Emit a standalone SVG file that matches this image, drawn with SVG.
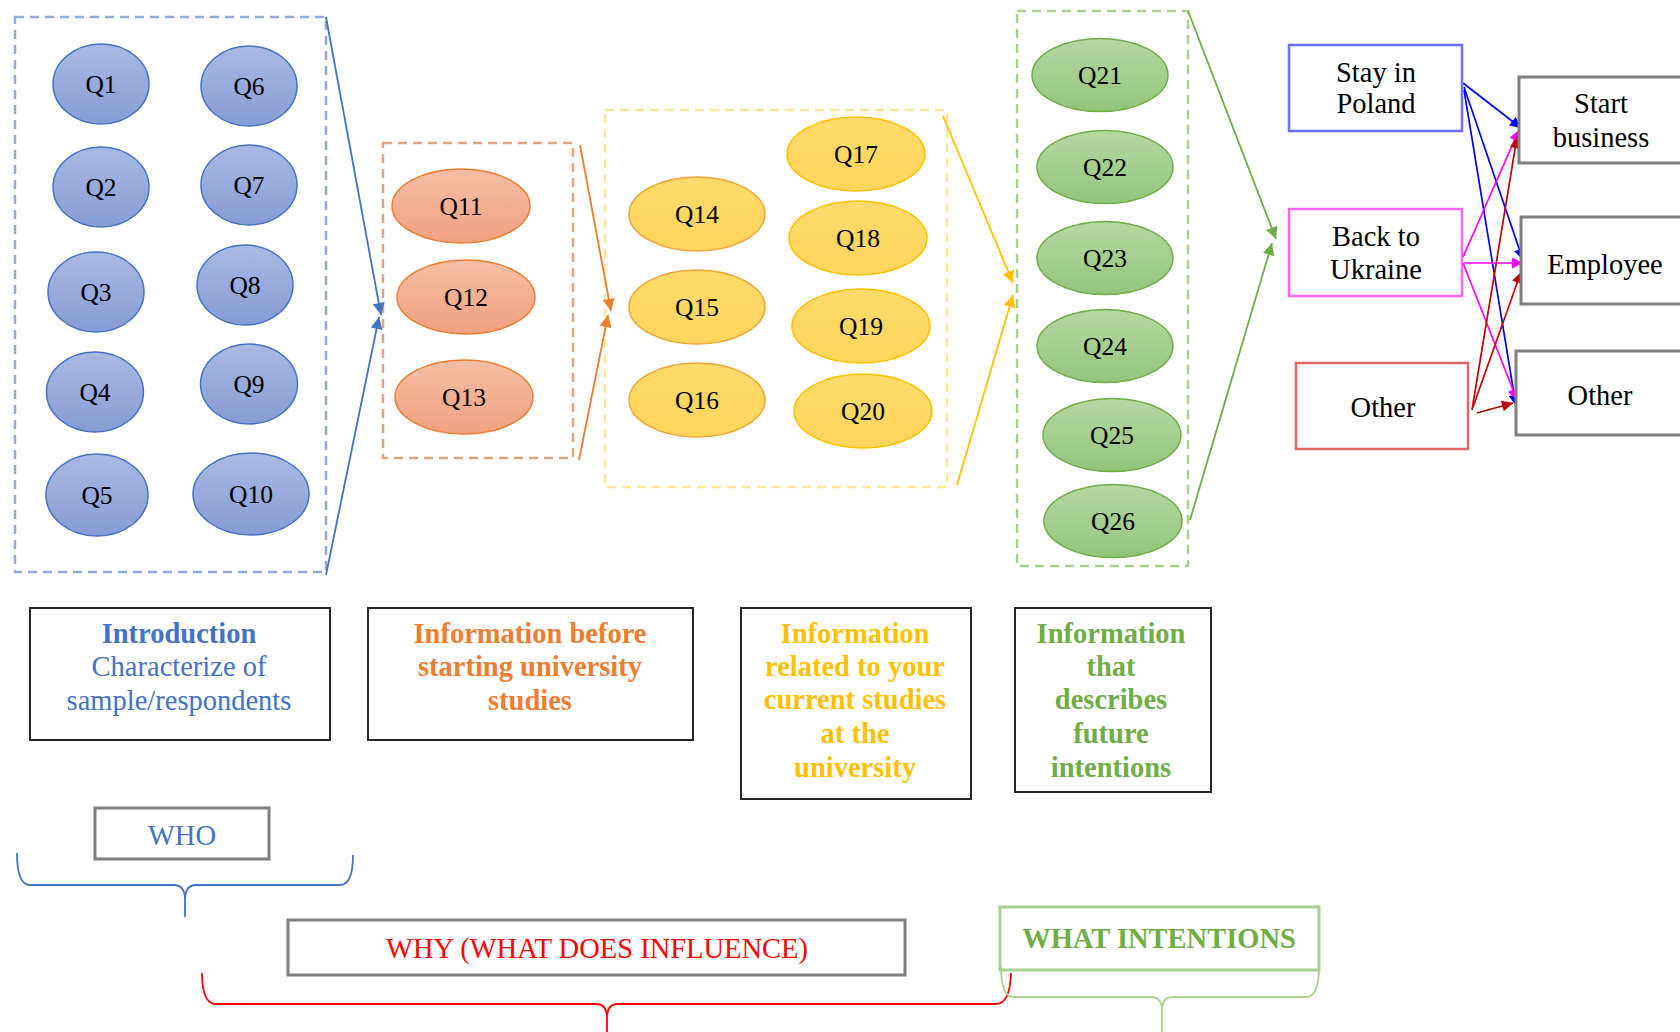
<svg xmlns="http://www.w3.org/2000/svg" width="1680" height="1032" viewBox="0 0 1680 1032">
<defs>
<style>
.q{font-family:"Liberation Serif","Times New Roman",serif;font-size:25.5px;fill:#000;text-anchor:middle}
.t{font-family:"Liberation Serif","Times New Roman",serif;font-size:28.5px;text-anchor:middle}
.b{font-weight:bold}
.dash{fill:none;stroke-width:2.5;stroke-dasharray:9 6}
.box{fill:#fff;stroke:#262626;stroke-width:2}
.gbox{fill:#fff;stroke:#7f7f7f;stroke-width:3}
.conn{fill:none;stroke-width:1.8}
.rc{fill:none;stroke-width:1.7}
.brace{fill:none;stroke-width:1.8}
.eb{fill:url(#gB);stroke:#4472C4;stroke-width:1.5}
.eo{fill:url(#gO);stroke:#ED7D31;stroke-width:1.5}
.ey{fill:url(#gY);stroke:#FFC000;stroke-width:1.5}
.ey2{fill:url(#gY);stroke:#F2A43A;stroke-width:1.5}
.eg{fill:url(#gG);stroke:#70AD47;stroke-width:1.5}
</style>
<linearGradient id="gB" x1="0" y1="0" x2="0" y2="1"><stop offset="0" stop-color="#A9B9E3"/><stop offset="1" stop-color="#879CD5"/></linearGradient>
<linearGradient id="gO" x1="0" y1="0" x2="0" y2="1"><stop offset="0" stop-color="#F6BEA4"/><stop offset="1" stop-color="#F1A17F"/></linearGradient>
<linearGradient id="gY" x1="0" y1="0" x2="0" y2="1"><stop offset="0" stop-color="#FFDB6C"/><stop offset="1" stop-color="#FFD55A"/></linearGradient>
<linearGradient id="gG" x1="0" y1="0" x2="0" y2="1"><stop offset="0" stop-color="#B6D8A2"/><stop offset="1" stop-color="#93C47B"/></linearGradient>
<marker id="mB" viewBox="0 0 10 10" refX="10" refY="5" markerWidth="13" markerHeight="12" markerUnits="userSpaceOnUse" orient="auto"><path d="M0,0L10,5L0,10z" fill="#4472C4"/></marker>
<marker id="mO" viewBox="0 0 10 10" refX="10" refY="5" markerWidth="13" markerHeight="12" markerUnits="userSpaceOnUse" orient="auto"><path d="M0,0L10,5L0,10z" fill="#ED7D31"/></marker>
<marker id="mY" viewBox="0 0 10 10" refX="10" refY="5" markerWidth="13" markerHeight="12" markerUnits="userSpaceOnUse" orient="auto"><path d="M0,0L10,5L0,10z" fill="#FFC000"/></marker>
<marker id="mG" viewBox="0 0 10 10" refX="10" refY="5" markerWidth="13" markerHeight="12" markerUnits="userSpaceOnUse" orient="auto"><path d="M0,0L10,5L0,10z" fill="#70AD47"/></marker>
<marker id="rB" viewBox="0 0 10 10" refX="10" refY="5" markerWidth="13" markerHeight="11" markerUnits="userSpaceOnUse" orient="auto"><path d="M0,0L10,5L0,10z" fill="#0000FF"/></marker>
<marker id="rM" viewBox="0 0 10 10" refX="10" refY="5" markerWidth="13" markerHeight="11" markerUnits="userSpaceOnUse" orient="auto"><path d="M0,0L10,5L0,10z" fill="#FF00FF"/></marker>
<marker id="rR" viewBox="0 0 10 10" refX="10" refY="5" markerWidth="13" markerHeight="11" markerUnits="userSpaceOnUse" orient="auto"><path d="M0,0L10,5L0,10z" fill="#C00000"/></marker>
</defs>
<rect width="1680" height="1032" fill="#fff"/>

<!-- group frames -->
<g id="frames">
<rect class="dash" x="15" y="17" width="311" height="555" stroke="#8FAADC"/>
<rect class="dash" x="383" y="143" width="190" height="315" stroke="#E2A47E"/>
<rect class="dash" x="605" y="110" width="342" height="377" stroke="#FFE699"/>
<rect class="dash" x="1017" y="11" width="171" height="555" stroke="#A9D18E"/>
</g>

<!-- connectors -->
<g id="connectors">
<line class="conn" x1="326" y1="17" x2="381" y2="315" stroke="#4472C4" marker-end="url(#mB)"/>
<line class="conn" x1="326" y1="575" x2="379" y2="317" stroke="#4472C4" marker-end="url(#mB)"/>
<line class="conn" x1="580" y1="145" x2="611" y2="311" stroke="#ED7D31" marker-end="url(#mO)"/>
<line class="conn" x1="579" y1="460" x2="608" y2="315" stroke="#ED7D31" marker-end="url(#mO)"/>
<line class="conn" x1="943" y1="116" x2="1013" y2="283" stroke="#FFC000" marker-end="url(#mY)"/>
<line class="conn" x1="957" y1="485" x2="1013" y2="295" stroke="#FFC000" marker-end="url(#mY)"/>
<line class="conn" x1="1188" y1="11" x2="1276" y2="239" stroke="#70AD47" marker-end="url(#mG)"/>
<line class="conn" x1="1190" y1="520" x2="1272" y2="243" stroke="#70AD47" marker-end="url(#mG)"/>

<line class="rc" x1="1463" y1="83" x2="1521" y2="128" stroke="#0000FF" marker-end="url(#rB)"/>
<line class="rc" x1="1464" y1="87" x2="1523" y2="260" stroke="#0000FF" marker-end="url(#rB)"/>
<line class="rc" x1="1464" y1="90" x2="1516" y2="406" stroke="#0000FF" marker-end="url(#rB)"/>
<line class="rc" x1="1463" y1="257" x2="1519" y2="130" stroke="#FF00FF" marker-end="url(#rM)"/>
<line class="rc" x1="1464" y1="263" x2="1523" y2="263" stroke="#FF00FF" marker-end="url(#rM)"/>
<line class="rc" x1="1463" y1="263" x2="1517" y2="400" stroke="#FF00FF" marker-end="url(#rM)"/>
<line class="rc" x1="1472" y1="410" x2="1517" y2="137" stroke="#C00000" marker-end="url(#rR)"/>
<line class="rc" x1="1473" y1="407" x2="1521" y2="272" stroke="#C00000" marker-end="url(#rR)"/>
<line class="rc" x1="1477" y1="413" x2="1513" y2="403" stroke="#C00000" marker-end="url(#rR)"/>
</g>

<!-- blue questions -->
<g id="Q1"><ellipse class="eb" cx="101" cy="84" rx="48" ry="40"/><text class="q" x="101" y="93">Q1</text></g>
<g id="Q2"><ellipse class="eb" cx="101" cy="187" rx="48" ry="40"/><text class="q" x="101" y="196">Q2</text></g>
<g id="Q3"><ellipse class="eb" cx="96" cy="292" rx="48" ry="40"/><text class="q" x="96" y="301">Q3</text></g>
<g id="Q4"><ellipse class="eb" cx="95" cy="392" rx="48.5" ry="40"/><text class="q" x="95" y="401">Q4</text></g>
<g id="Q5"><ellipse class="eb" cx="97" cy="495" rx="51" ry="41"/><text class="q" x="97" y="504">Q5</text></g>
<g id="Q6"><ellipse class="eb" cx="249" cy="86" rx="48" ry="40"/><text class="q" x="249" y="95">Q6</text></g>
<g id="Q7"><ellipse class="eb" cx="249" cy="185" rx="48" ry="40"/><text class="q" x="249" y="194">Q7</text></g>
<g id="Q8"><ellipse class="eb" cx="245" cy="285" rx="48" ry="40"/><text class="q" x="245" y="294">Q8</text></g>
<g id="Q9"><ellipse class="eb" cx="249" cy="384" rx="48.5" ry="40"/><text class="q" x="249" y="393">Q9</text></g>
<g id="Q10"><ellipse class="eb" cx="251" cy="494" rx="58" ry="41"/><text class="q" x="251" y="503">Q10</text></g>

<!-- orange questions -->
<g id="Q11"><ellipse class="eo" cx="461" cy="206" rx="69" ry="37"/><text class="q" x="461" y="215">Q11</text></g>
<g id="Q12"><ellipse class="eo" cx="466" cy="297" rx="69" ry="37"/><text class="q" x="466" y="306">Q12</text></g>
<g id="Q13"><ellipse class="eo" cx="464" cy="397" rx="69" ry="37"/><text class="q" x="464" y="406">Q13</text></g>

<!-- yellow questions -->
<g id="Q14"><ellipse class="ey2" cx="697" cy="214" rx="68" ry="37"/><text class="q" x="697" y="223">Q14</text></g>
<g id="Q15"><ellipse class="ey2" cx="697" cy="307" rx="68" ry="37"/><text class="q" x="697" y="316">Q15</text></g>
<g id="Q16"><ellipse class="ey2" cx="697" cy="400" rx="68" ry="37"/><text class="q" x="697" y="409">Q16</text></g>
<g id="Q17"><ellipse class="ey" cx="856" cy="154" rx="69" ry="37"/><text class="q" x="856" y="163">Q17</text></g>
<g id="Q18"><ellipse class="ey" cx="858" cy="238" rx="69" ry="37"/><text class="q" x="858" y="247">Q18</text></g>
<g id="Q19"><ellipse class="ey" cx="861" cy="326" rx="69" ry="37"/><text class="q" x="861" y="335">Q19</text></g>
<g id="Q20"><ellipse class="ey" cx="863" cy="411" rx="69" ry="37"/><text class="q" x="863" y="420">Q20</text></g>

<!-- green questions -->
<g id="Q21"><ellipse class="eg" cx="1100" cy="75" rx="68" ry="36.5"/><text class="q" x="1100" y="84">Q21</text></g>
<g id="Q22"><ellipse class="eg" cx="1105" cy="167" rx="68" ry="36.5"/><text class="q" x="1105" y="176">Q22</text></g>
<g id="Q23"><ellipse class="eg" cx="1105" cy="258" rx="68" ry="36.5"/><text class="q" x="1105" y="267">Q23</text></g>
<g id="Q24"><ellipse class="eg" cx="1105" cy="346" rx="68" ry="36.5"/><text class="q" x="1105" y="355">Q24</text></g>
<g id="Q25"><ellipse class="eg" cx="1112" cy="435" rx="69" ry="36.5"/><text class="q" x="1112" y="444">Q25</text></g>
<g id="Q26"><ellipse class="eg" cx="1113" cy="521" rx="69" ry="36.5"/><text class="q" x="1113" y="530">Q26</text></g>

<!-- outcome boxes -->
<g id="stay"><rect x="1289" y="45" width="173" height="86" fill="#fff" stroke="#6F6FFF" stroke-width="2.5"/><text class="t" x="1376" y="82">Stay in</text><text class="t" x="1376" y="113">Poland</text></g>
<g id="back"><rect x="1289" y="209" width="173" height="87" fill="#fff" stroke="#FF66FF" stroke-width="2.5"/><text class="t" x="1376" y="246">Back to</text><text class="t" x="1376" y="279">Ukraine</text></g>
<g id="otherL"><rect x="1296" y="363" width="172" height="86" fill="#fff" stroke="#E06666" stroke-width="2.5"/><text class="t" x="1383" y="417">Other</text></g>
<g id="start"><rect class="gbox" x="1519" y="77" width="200" height="86"/><text class="t" x="1601" y="113">Start</text><text class="t" x="1601" y="147">business</text></g>
<g id="employee"><rect class="gbox" x="1521" y="217" width="200" height="87"/><text class="t" x="1605" y="274">Employee</text></g>
<g id="otherR"><rect class="gbox" x="1516" y="351" width="200" height="84"/><text class="t" x="1600" y="405">Other</text></g>

<!-- section description boxes -->
<g id="intro"><rect class="box" x="30" y="608" width="300" height="132"/>
<text class="t b" x="179" y="643" fill="#4472C4">Introduction</text>
<text class="t" x="179" y="676" fill="#4472C4">Characterize of</text>
<text class="t" x="179" y="710" fill="#4472C4">sample/respondents</text></g>
<g id="before"><rect class="box" x="368" y="608" width="325" height="132"/>
<text class="t b" x="530" y="643" fill="#ED7D31">Information before</text>
<text class="t b" x="530" y="676" fill="#ED7D31">starting university</text>
<text class="t b" x="530" y="710" fill="#ED7D31">studies</text></g>
<g id="current"><rect class="box" x="741" y="608" width="230" height="191"/>
<text class="t b" x="855" y="643" fill="#FFC000">Information</text>
<text class="t b" x="855" y="676" fill="#FFC000">related to your</text>
<text class="t b" x="855" y="709" fill="#FFC000">current studies</text>
<text class="t b" x="855" y="743" fill="#FFC000">at the</text>
<text class="t b" x="855" y="777" fill="#FFC000">university</text></g>
<g id="future"><rect class="box" x="1015" y="608" width="196" height="184"/>
<text class="t b" x="1111" y="643" fill="#70AD47">Information</text>
<text class="t b" x="1111" y="676" fill="#70AD47">that</text>
<text class="t b" x="1111" y="709" fill="#70AD47">describes</text>
<text class="t b" x="1111" y="743" fill="#70AD47">future</text>
<text class="t b" x="1111" y="777" fill="#70AD47">intentions</text></g>

<!-- question category labels -->
<g id="who"><rect class="gbox" x="95" y="808" width="174" height="51"/><text class="t" x="182" y="845" fill="#4472C4">WHO</text></g>
<g id="why"><rect class="gbox" x="288" y="920" width="617" height="55"/><text class="t" x="597" y="958" fill="#FF0000">WHY (WHAT DOES INFLUENCE)</text></g>
<g id="what"><rect x="1000" y="907" width="319" height="63" fill="#fff" stroke="#A9D18E" stroke-width="3"/><text class="t b" x="1159" y="948" fill="#70AD47">WHAT INTENTIONS</text></g>

<!-- braces -->
<g id="braces">
<path class="brace" stroke="#4472C4" d="M17,853 Q17,885 30,885 L174,885 Q185,885 185,900 L185,917 M185,900 Q185,885 196,885 L340,885 Q353,885 353,855"/>
<path class="brace" stroke="#FF0000" d="M202,973 Q202,1004 216,1004 L596,1004 Q607,1004 607,1018 L607,1032 M607,1018 Q607,1004 618,1004 L996,1004 Q1010,1004 1011,973"/>
<path class="brace" stroke="#A9D18E" d="M1001,967 Q1001,997 1014,997 L1151,997 Q1162,997 1162,1011 L1162,1032 M1162,1011 Q1162,997 1173,997 L1306,997 Q1319,997 1319,967"/>
</g>
</svg>
